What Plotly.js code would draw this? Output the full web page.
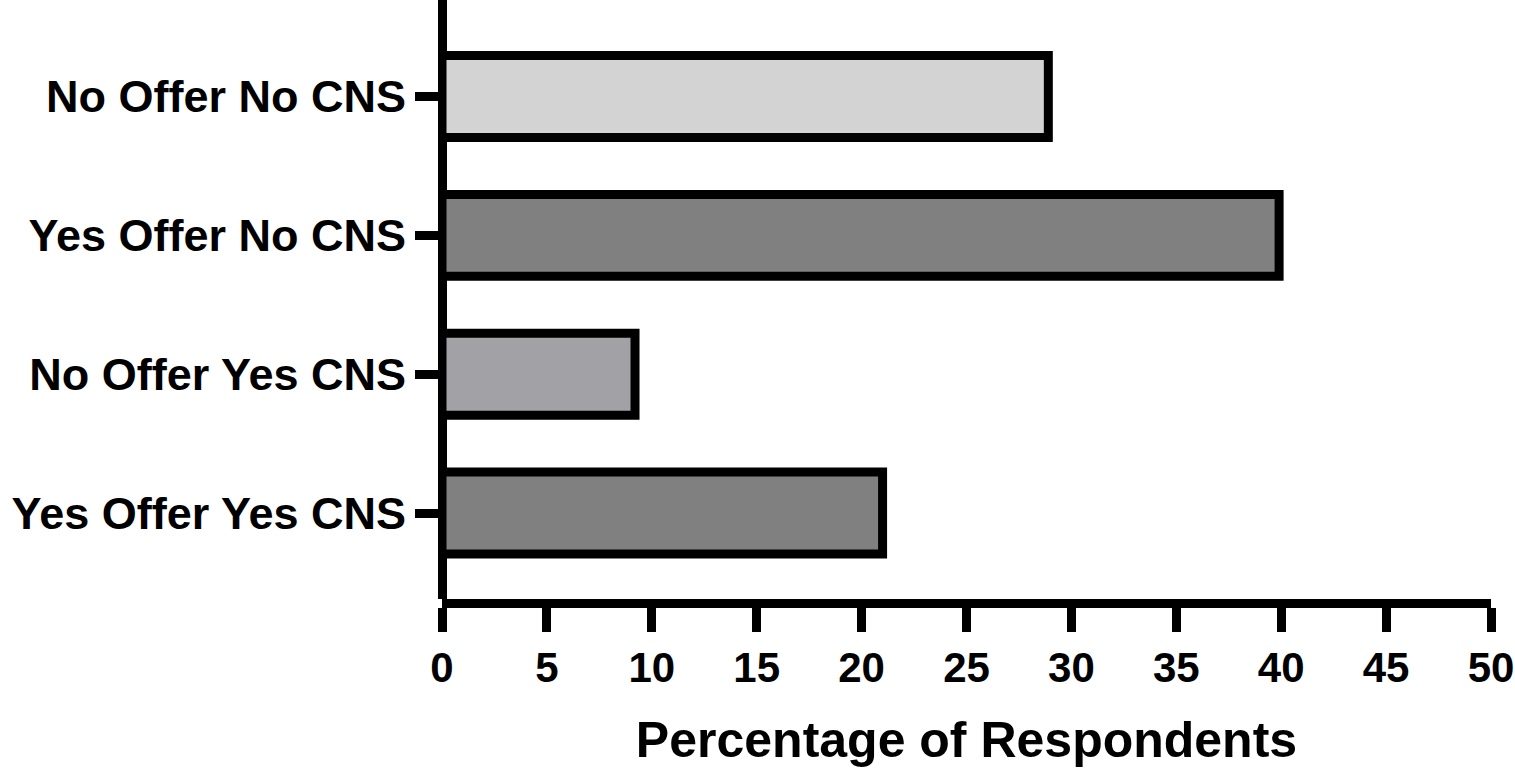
<!DOCTYPE html>
<html>
<head>
<meta charset="utf-8">
<script src="https://cdn.plot.ly/plotly-3.0.1.min.js"></script>
<style>
html,body{margin:0;padding:0;background:#fff;}
#chart{width:1515px;height:768px;}
</style>
</head>
<body>
<div id="chart"></div>
<script>
const categories = ["No Offer No CNS", "Yes Offer No CNS", "No Offer Yes CNS", "Yes Offer Yes CNS"];
const percentages = [28.9, 39.9, 9.2, 21.0];
const xTicks = [0, 5, 10, 15, 20, 25, 30, 35, 40, 45, 50];

const barColors = ["#d3d3d3", "#808080", "#a2a1a6", "#808080"];
const FONT = "Liberation Sans, Arial, Helvetica, sans-serif";

const trace = {
  type: "bar",
  orientation: "h",
  y: categories,
  x: percentages,
  marker: { color: barColors, line: { color: "#000", width: 9 } },
  width: 0.59,
  hoverinfo: "x+y"
};

const layout = {
  width: 1515,
  height: 768,
  margin: { l: 442, r: 23.5, t: 0, b: 169 },
  paper_bgcolor: "#fff",
  plot_bgcolor: "#fff",
  showlegend: false,
  font: { family: FONT, color: "#000" },
  xaxis: {
    range: [0, 50],
    tickvals: xTicks,
    ticktext: xTicks.map(String),
    showgrid: false,
    zeroline: true,
    zerolinecolor: "#000",
    zerolinewidth: 9,
    showline: true,
    linecolor: "#000",
    linewidth: 9,
    ticks: "outside",
    ticklen: 24,
    tickwidth: 9,
    tickcolor: "#000",
    ticklabeloverflow: "allow",
    tickfont: { family: FONT, size: 42, weight: "bold", color: "#000" },
    title: { text: "Percentage of Respondents", font: { family: FONT, size: 50, weight: "bold", color: "#000" }, standoff: 35 }
  },
  yaxis: {
    type: "category",
    categoryorder: "array",
    categoryarray: categories,
    range: [3.619, -0.695],
    showgrid: false,
    zeroline: false,
    showline: false,
    ticks: "outside",
    ticklen: 26,
    tickwidth: 9,
    tickcolor: "#000",
    tickfont: { family: FONT, size: 45, weight: "bold", color: "#000" }
  }
};

Plotly.newPlot("chart", [trace], layout, { displayModeBar: false, staticPlot: true });
</script>
</body>
</html>
